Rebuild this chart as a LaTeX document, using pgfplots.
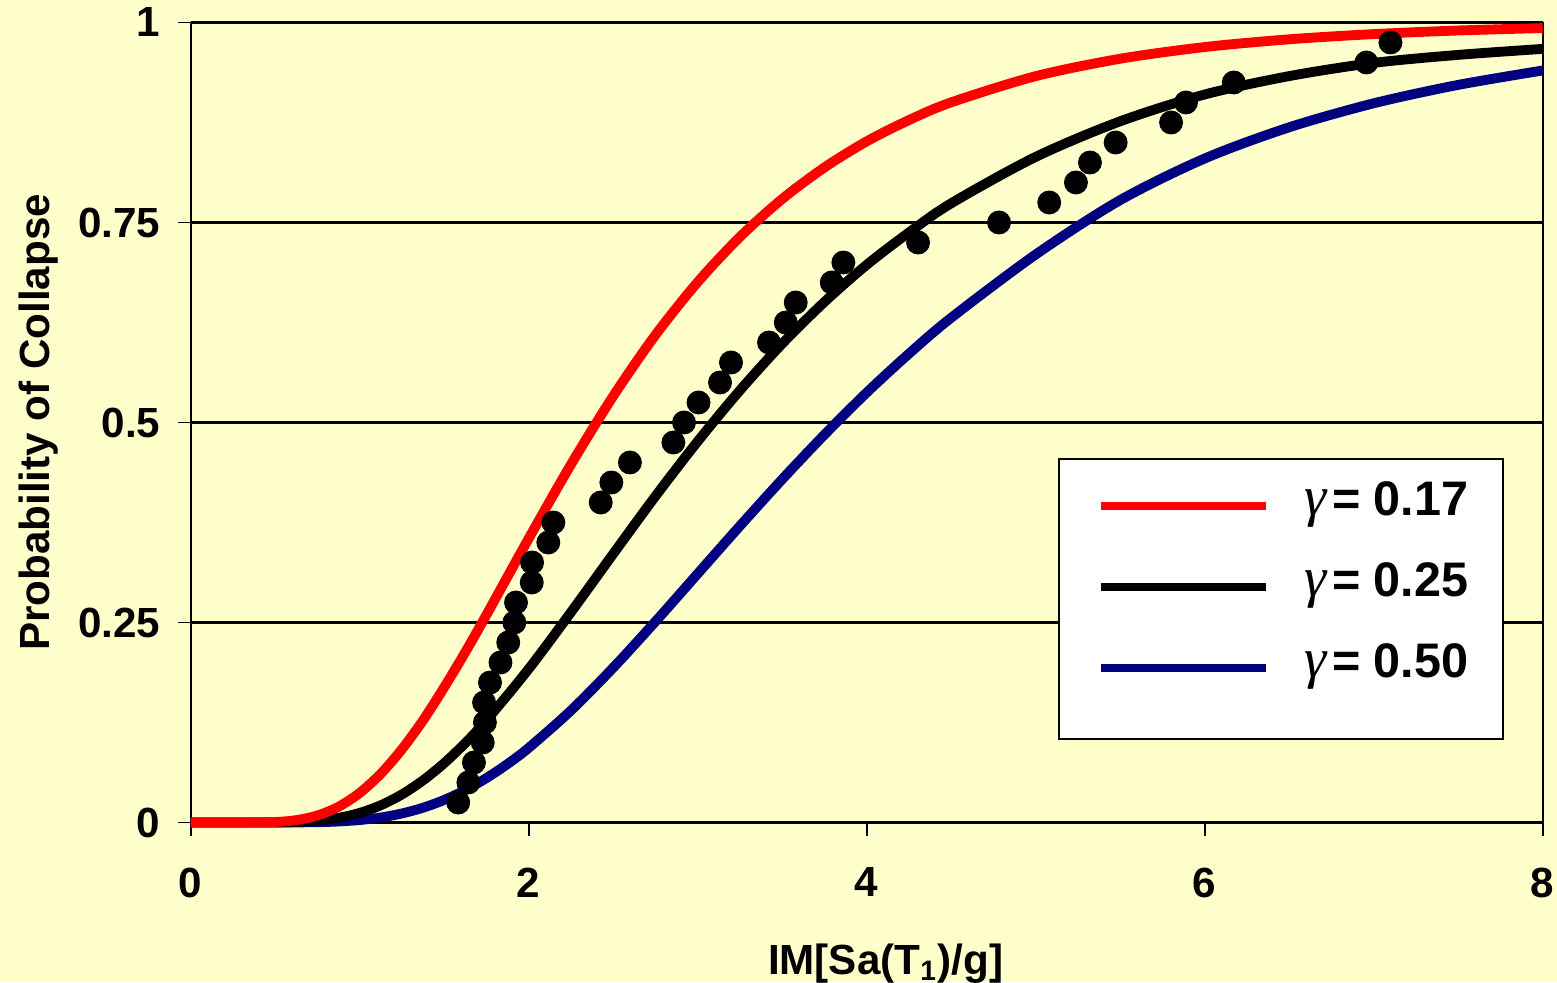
\documentclass[border=0pt]{standalone}
\usepackage{pgfplots}
\pgfplotsset{compat=1.18}
\usepackage{fontspec}
\setmainfont{Liberation Sans}
\newfontfamily\gfont{Liberation Serif}
\definecolor{bg}{HTML}{FFFFCC}
\definecolor{navy}{HTML}{000080}

\pgfplotstableread{
x p
0 0
0.25 0
0.5 0.0007
0.625 0.0030
0.75 0.0088
0.875 0.0197
1 0.037
1.125 0.0610
1.25 0.0916
1.375 0.1278
1.5 0.169
1.625 0.2130
1.75 0.2596
2 0.355
2.25 0.4475
2.5 0.533
2.75 0.6094
3 0.6755
3.25 0.732
3.5 0.7794
3.75 0.8188
4 0.8514
4.25 0.8780
4.5 0.9002
5 0.9329
5.5 0.9547
6 0.9693
6.5 0.979
7 0.9855
7.5 0.99
8 0.993
}\redtab

\pgfplotstableread{
x p
0 0
0.25 0
0.5 0.0001
0.625 0.0007
0.75 0.0023
0.875 0.0058
1 0.012
1.125 0.0216
1.25 0.0351
1.375 0.0527
1.5 0.0742
1.625 0.0994
1.75 0.1278
2 0.192
2.25 0.2628
2.5 0.3358
2.75 0.4079
3 0.4764
3.25 0.5402
3.5 0.5985
3.75 0.6507
4 0.6971
4.25 0.7375
4.5 0.774
5 0.832
5.5 0.8765
6 0.9100
6.5 0.9330
7 0.9495
7.5 0.9595
8 0.9670
}\blacktab

\pgfplotstableread{
x p
0 0
0.25 0
0.5 0
0.75 0.0004
0.875 0.0013
1 0.0031
1.125 0.0063
1.25 0.0113
1.375 0.0185
1.5 0.0282
1.625 0.0406
1.75 0.0556
1.875 0.0732
2 0.0933
2.25 0.140
2.5 0.1935
2.75 0.2512
3 0.311
3.25 0.3707
3.5 0.429
3.75 0.4848
4 0.5374
4.25 0.5860
4.5 0.6309
5 0.7100
5.5 0.7780
6 0.8300
6.5 0.8690
7 0.8990
7.5 0.9220
8 0.9400
}\bluetab

\pgfplotstableread{
x p
1.583 0.025
1.643 0.050
1.676 0.075
1.728 0.100
1.741 0.125
1.736 0.150
1.771 0.175
1.833 0.200
1.879 0.225
1.915 0.250
1.925 0.275
2.018 0.300
2.020 0.325
2.116 0.350
2.146 0.375
2.426 0.400
2.489 0.425
2.599 0.450
2.856 0.475
2.919 0.500
3.005 0.525
3.132 0.550
3.197 0.575
3.422 0.600
3.521 0.625
3.580 0.650
3.793 0.675
3.862 0.700
4.304 0.725
4.783 0.750
5.080 0.775
5.238 0.800
5.321 0.825
5.473 0.850
5.801 0.875
5.889 0.900
6.172 0.925
6.957 0.950
7.099 0.975
}\dots

\begin{document}
\begin{tikzpicture}
\path[fill=bg, use as bounding box] (-1.907,-1.595) rectangle (13.663,8.225);
\begin{axis}[
  at={(0,0)}, anchor=south west,
  scale only axis, width=13.52cm, height=8cm,
  xmin=0, xmax=8, ymin=0, ymax=1,
  clip=false,
  axis background/.style={fill=bg},
  axis line style={black, line width=0.5pt},
  xtick={0,2,4,6,8}, xticklabels={0,2,4,6,8},
  ytick={0,0.25,0.5,0.75,1}, yticklabels={0,0.25,0.5,0.75,1},
  /pgf/number format/assume math mode=true,
  tick align=outside, major tick length=0.13cm,
  xtick pos=bottom, ytick pos=left,
  tick style={black, line width=0.5pt},
  ymajorgrids, grid style={black, line width=0.6pt},
  ticklabel style={font=\bfseries\fontsize{12}{14}\selectfont},
  x tick label style={yshift=-0.2cm},
  y tick label style={xshift=-0.05cm},
  xlabel={IM[Sa(T\textsubscript{1})/g]},
  ylabel={Probability of Collapse},
  xlabel style={at={(axis description cs:0.514,-0.19)}, anchor=base, font=\bfseries\fontsize{12}{14}\selectfont},
  ylabel style={at={(axis description cs:-0.1043,0.5)}, anchor=base, font=\bfseries\fontsize{12}{14}\selectfont},
  legend style={at={(axis cs:5.132,0.4556)}, anchor=north west, draw=black, line width=0.6pt, fill=white,
    inner xsep=0.35cm, inner ysep=0.185cm, font=\bfseries\fontsize{13.8}{16}\selectfont,
    nodes={inner sep=0pt, text height=0.38cm, text depth=0.43cm}},
  legend cell align=left,
  legend image code/.code={\path[draw=none,fill=none] (-0.07cm,0.12cm) -- (2.03cm,0.12cm); \draw[#1, line width=2.4pt] (0cm,0.12cm) -- (1.65cm,0.12cm);},
]
\addlegendimage{red, line width=2.4pt}
\addlegendentry{{\gfont\mdseries\itshape\fontsize{16}{16}\selectfont γ}\kern0.12em= 0.17}
\addlegendimage{black, line width=2.4pt}
\addlegendentry{{\gfont\mdseries\itshape\fontsize{16}{16}\selectfont γ}\kern0.12em= 0.25}
\addlegendimage{navy, line width=2.4pt}
\addlegendentry{{\gfont\mdseries\itshape\fontsize{16}{16}\selectfont γ}\kern0.12em= 0.50}
\addplot[navy, line width=2.8pt, smooth, forget plot] table[x=x,y=p] {\bluetab};
\addplot[black, line width=2.8pt, smooth, forget plot] table[x=x,y=p] {\blacktab};
\addplot[red, line width=2.8pt, smooth, forget plot] table[x=x,y=p] {\redtab};
\addplot[only marks, mark=*, mark size=3.2pt, black, forget plot] table[x=x,y=p] {\dots};
\end{axis}
\end{tikzpicture}
\end{document}
